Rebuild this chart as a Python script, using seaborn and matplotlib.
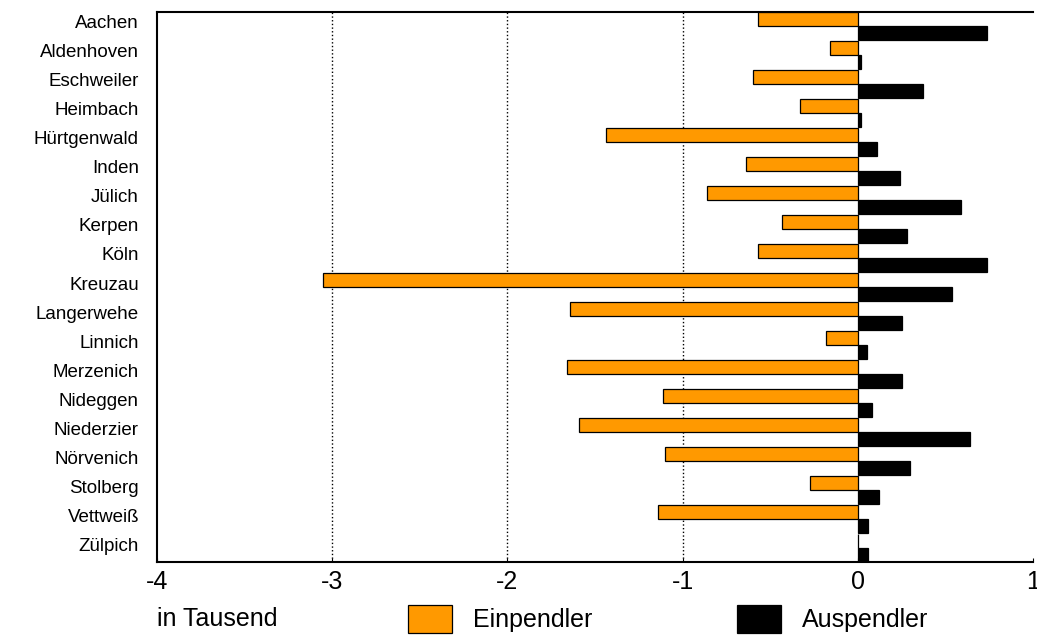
import pandas as pd
import matplotlib
matplotlib.use('Agg')
import matplotlib.pyplot as plt
import matplotlib.transforms as mtransforms
import seaborn as sns

orte = ['Aachen', 'Aldenhoven', 'Eschweiler', 'Heimbach', 'Hürtgenwald', 'Inden',
        'Jülich', 'Kerpen', 'Köln', 'Kreuzau', 'Langerwehe', 'Linnich', 'Merzenich',
        'Nideggen', 'Niederzier', 'Nörvenich', 'Stolberg', 'Vettweiß', 'Zülpich']
einpendler = [-0.57, -0.16, -0.60, -0.33, -1.44, -0.64, -0.86, -0.43, -0.57, -3.05,
              -1.64, -0.18, -1.66, -1.11, -1.59, -1.10, -0.27, -1.14, 0.0]
auspendler = [0.74, 0.02, 0.37, 0.02, 0.11, 0.24, 0.59, 0.28, 0.74, 0.54,
              0.25, 0.05, 0.25, 0.08, 0.64, 0.30, 0.12, 0.06, 0.06]
x_ticks = [-4, -3, -2, -1, 0, 1]
grid_lines = [-3, -2, -1]

df = pd.DataFrame({'Ort': orte * 2,
                   'Wert': einpendler + auspendler,
                   'Art': ['Einpendler'] * len(orte) + ['Auspendler'] * len(orte)})

sns.set_style('white')
plt.rcParams['font.family'] = ['Liberation Sans', 'DejaVu Sans']
plt.rcParams['text.color'] = 'black'
plt.rcParams['xtick.color'] = 'black'
plt.rcParams['ytick.color'] = 'black'

fig = plt.figure(figsize=(10.37, 6.36), dpi=100)
ax = fig.add_axes([157 / 1037, 1 - 562 / 636, (1033 - 157) / 1037, (562 - 12) / 636])

for g in grid_lines:
    ax.axvline(g, color='black', linestyle=':', linewidth=1, zorder=0)

sns.barplot(data=df, y='Ort', x='Wert', hue='Art', orient='h', ax=ax,
            palette=['#FF9900', 'black'], saturation=1, width=0.96, edgecolor='black',
            linewidth=0.9, dodge=True, zorder=2)

#axis formatting
ax.set_xlim(-4, 1)
ax.set_ylim(len(orte) - 1 + 0.48, -0.48)
ax.set_xticks(x_ticks)
ax.set_xticklabels([str(t) for t in x_ticks], fontsize=18)
ax.set_xlabel('')
ax.set_ylabel('')
ax.tick_params(axis='x', direction='in', length=3, pad=6, bottom=True, labelcolor='black')
ax.tick_params(axis='y', length=0, pad=13, labelsize=13.5, labelcolor='black')
offset = mtransforms.ScaledTranslation(0, 4 / 100, fig.dpi_scale_trans)
for lab in ax.get_yticklabels():
    lab.set_transform(lab.get_transform() + offset)

for side in ['left', 'top', 'bottom']:
    ax.spines[side].set_visible(True)
    ax.spines[side].set_color('black')
    ax.spines[side].set_linewidth(1.5)
ax.spines['right'].set_visible(False)

#legend
handles, labels = ax.get_legend_handles_labels()
ax.get_legend().remove()
leg = fig.legend(handles, labels, loc='center left', bbox_to_anchor=(408 / 1037, 1 - 619 / 636),
                 ncol=2, frameon=False, fontsize=18, borderpad=0, borderaxespad=0,
                 handlelength=1.75, handleheight=1.4, handletextpad=0.85, columnspacing=5.8)
for t in leg.get_texts():
    t.set_color('black')
fig.text(157 / 1037, 1 - 619 / 636, 'in Tausend', fontsize=18, ha='left', va='center', color='black')

fig.savefig('out.png', dpi=100)
